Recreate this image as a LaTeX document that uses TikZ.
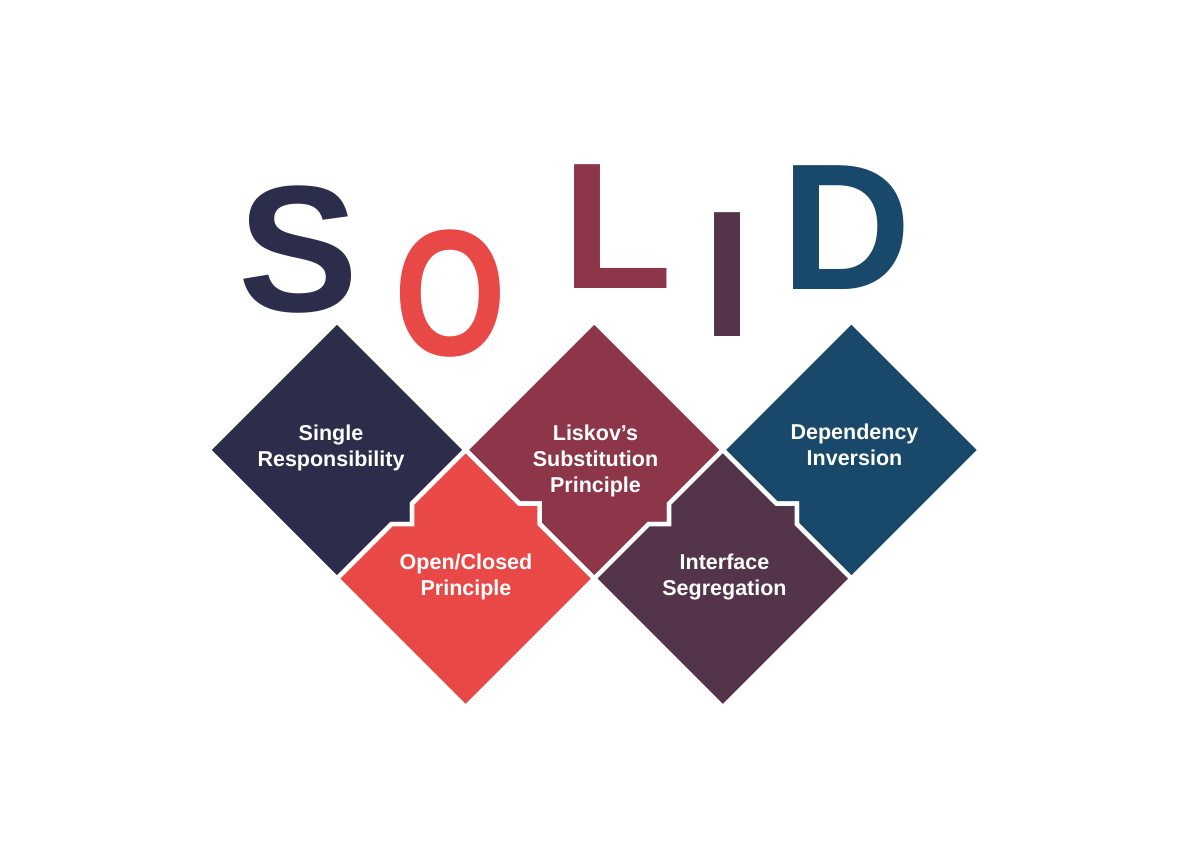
\documentclass[tikz,border=0pt]{standalone}
\usepackage{fontspec}
\setmainfont{Liberation Sans}
\definecolor{cS}{HTML}{2C2D4B}
\definecolor{cO}{HTML}{E84846}
\definecolor{cL}{HTML}{8E3649}
\definecolor{cI}{HTML}{53344A}
\definecolor{cD}{HTML}{18486A}
\begin{document}
\begin{tikzpicture}[x=1pt,y=-1pt,
  tile/.style={draw=white,line width=4.5pt,line join=miter},
  lbl/.style={text=white,font=\fontsize{21.5}{26}\selectfont\bfseries,align=center,inner sep=0pt},
  big/.style={font=\fontsize{180}{180}\selectfont\bfseries,anchor=base,inner sep=0pt}]
\useasboundingbox[fill=white] (0,0) rectangle (1191,842);
% big letters
\node[big,text=cS] (bS) at (299,312) {S};
\node[big,text=cO] (bO) at (450,355) {\scalebox{0.8}[1]{O}};
\node[big,text=cL] (bL) at (617,289) {L};
\node[big,text=cI] (bI) at (727.5,336) {I};
\node[big,text=cD] (bD) at (846,290) {D};
% tiles
\path[tile,fill=cS] (337,321.4) -- (465.6,450) -- (412,503.6) -- (412,524) -- (391.6,524) -- (337,578.6) -- (208.4,450) -- cycle;
\path[tile,fill=cL] (594.2,321.4) -- (722.8,450) -- (669.2,503.6) -- (669.2,524) -- (648.8,524) -- (594.2,578.6) -- (539.6,524) -- (539.6,503.6) -- (519.2,503.6) -- (465.6,450) -- cycle;
\path[tile,fill=cD] (851.4,321.4) -- (980,450) -- (851.4,578.6) -- (796.8,524) -- (796.8,503.6) -- (776.4,503.6) -- (722.8,450) -- cycle;
\path[tile,fill=cO] (465.6,450) -- (519.2,503.6) -- (539.6,503.6) -- (539.6,524) -- (594.2,578.6) -- (465.6,707.2) -- (337,578.6) -- (391.6,524) -- (412,524) -- (412,503.6) -- cycle;
\path[tile,fill=cI] (722.8,450) -- (776.4,503.6) -- (796.8,503.6) -- (796.8,524) -- (851.4,578.6) -- (722.8,707.2) -- (594.2,578.6) -- (648.8,524) -- (669.2,524) -- (669.2,503.6) -- cycle;
% labels
\node[lbl] (tS) at (331,448) {Single\\Responsibility};
\node[lbl] (tL) at (595.5,461) {Liskov’s\\Substitution\\Principle};
\node[lbl] (tD) at (854.5,445) {Dependency\\Inversion};
\node[lbl] (tO) at (466,577) {Open/Closed\\Principle};
\node[lbl] (tI) at (724.5,577) {Interface\\Segregation};
\end{tikzpicture}
\end{document}
